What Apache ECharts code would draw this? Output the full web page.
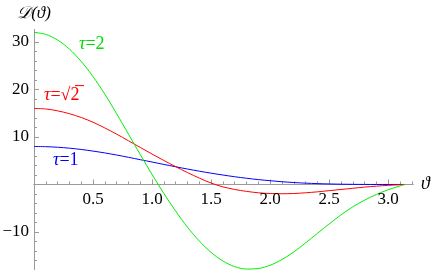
<!DOCTYPE html>
<html>
<head>
<meta charset="utf-8">
<script src="https://cdn.jsdelivr.net/npm/echarts@6/dist/echarts.min.js"></script>
<style>html,body{margin:0;padding:0;background:#fff}#c{width:436px;height:270px}</style>
</head>
<body>
<div id="c"></div>
<script>
// angle values (x)
const thetas = [0, 0.1, 0.2, 0.3, 0.4, 0.5, 0.6, 0.7, 0.8, 0.9, 1.0, 1.1, 1.2, 1.3, 1.4, 1.5, 1.6, 1.7, 1.8, 1.9, 2.0, 2.1, 2.2, 2.3, 2.4, 2.5, 2.6, 2.7, 2.8, 2.9, 3.0, 3.1, 3.1416];
// tau = 1 (blue)
const dTau1 = [8.0, 7.96, 7.84, 7.64, 7.37, 7.03, 6.64, 6.2, 5.72, 5.22, 4.72, 4.22, 3.73, 3.25, 2.8, 2.38, 1.99, 1.63, 1.31, 1.03, 0.79, 0.58, 0.41, 0.28, 0.18, 0.11, 0.06, 0.03, 0.01, 0.0, 0.0, 0.0, 0.0];
// tau = sqrt(2) (red)
const dTauSqrt2 = [16.0, 15.9, 15.5, 14.9, 14.1, 13.1, 11.9, 10.6, 9.2, 7.8, 6.4, 5.05, 3.75, 2.5, 1.35, 0.3, -0.5, -1.05, -1.45, -1.75, -1.9, -1.95, -1.9, -1.75, -1.55, -1.3, -1.05, -0.8, -0.55, -0.35, -0.18, -0.05, 0.0];
// tau = 2 (green)
const dTau2 = [32.0, 31.6, 30.4, 28.5, 25.9, 22.7, 19.0, 14.9, 10.6, 6.3, 2.1, -1.9, -5.6, -9.0, -11.9, -14.3, -16.1, -17.3, -17.8, -17.7, -17.0, -15.8, -14.2, -12.3, -10.3, -8.3, -6.4, -4.7, -3.3, -2.1, -1.1, -0.3, 0.0];
// ticks
const xMajorTicks = [0.5, 1.0, 1.5, 2.0, 2.5, 3.0];
const xTickLabels = ['0.5', '1.0', '1.5', '2.0', '2.5', '3.0'];
const xMinorTicks = [0.1, 0.2, 0.3, 0.4, 0.6, 0.7, 0.8, 0.9, 1.1, 1.2, 1.3, 1.4, 1.6, 1.7, 1.8, 1.9, 2.1, 2.2, 2.3, 2.4, 2.6, 2.7, 2.8, 2.9, 3.1, 3.2];
const yMajorTicks = [-10, 0, 10, 20, 30];
const yTickLabels = [30, 20, 10, -10];
const yMinorTicks = [-18, -16, -14, -12, -8, -6, -4, -2, 2, 4, 6, 8, 12, 14, 16, 18, 22, 24, 26, 28, 32];

const serif = "'Liberation Serif', 'Times New Roman', 'DejaVu Serif', serif";
const axisGray = '#9a9a9a';

const chart = echarts.init(document.getElementById('c'), null, {renderer: 'canvas'});
const mk = arr => thetas.map((t, i) => [t, arr[i]]);

const xBase = {
  type: 'value', min: 0, max: 3.21, position: 'bottom',
  axisLine: {onZero: true, lineStyle: {color: axisGray, width: 1}},
  splitLine: {show: false}
};
const yBase = {
  type: 'value', min: -18, max: 32.6, position: 'left',
  axisLine: {onZero: true, lineStyle: {color: axisGray, width: 1}},
  splitLine: {show: false}
};

const labelStyle = (color) => ({
  i: {fontStyle: 'italic', fontFamily: serif, fontSize: 18, fill: color},
  n: {fontFamily: serif, fontSize: 18, fill: color}
});

chart.setOption({
  animation: false,
  textStyle: {fontFamily: serif},
  grid: {left: 34, right: 23, top: 29.6, bottom: 0, containLabel: false,
    outerBounds: {left: -200, top: -200, right: -200, bottom: -200}},
  xAxis: [
    Object.assign({}, xBase, {
      name: 'ϑ', nameLocation: 'end', nameGap: 8,
      nameTextStyle: {fontFamily: serif, fontStyle: 'italic', fontSize: 18, color: '#000', verticalAlign: 'middle'},
      axisTick: {show: true, inside: true, length: 5, customValues: xMajorTicks, lineStyle: {color: axisGray}},
      axisLabel: {show: false}
    }),
    Object.assign({}, xBase, {
      axisTick: {show: true, inside: true, length: 3, customValues: xMinorTicks, lineStyle: {color: axisGray}},
      axisLabel: {show: false}
    })
  ],
  yAxis: [
    Object.assign({}, yBase, {
      name: '𝒟(ϑ)', nameLocation: 'end', nameGap: 8,
      nameTextStyle: {fontFamily: serif, fontStyle: 'italic', fontSize: 17, color: '#000'},
      axisTick: {show: true, inside: true, length: 5, customValues: yMajorTicks, lineStyle: {color: axisGray}},
      axisLabel: {show: true, customValues: yTickLabels, margin: 5, fontFamily: serif, fontSize: 17, color: '#000',
        formatter: v => (v < 0 ? '\u2212' + Math.abs(v) : String(v))}
    }),
    Object.assign({}, yBase, {
      axisTick: {show: true, inside: true, length: 3, customValues: yMinorTicks, lineStyle: {color: axisGray}},
      axisLabel: {show: false}
    })
  ],
  series: [
    {type: 'line', name: 'τ=1', data: mk(dTau1), smooth: 0.3, showSymbol: false, xAxisIndex: 0, yAxisIndex: 0,
      lineStyle: {color: '#0000ff', width: 1}, z: 3},
    {type: 'line', name: 'τ=√2', data: mk(dTauSqrt2), smooth: 0.3, showSymbol: false, xAxisIndex: 0, yAxisIndex: 0,
      lineStyle: {color: '#ff0000', width: 1}, z: 4},
    {type: 'line', name: 'τ=2', data: mk(dTau2), smooth: 0.3, showSymbol: false, xAxisIndex: 0, yAxisIndex: 0,
      lineStyle: {color: '#00ee00', width: 1}, z: 5}
  ]
});

// x tick labels placed through the axis scale
const graphics = xMajorTicks.map((v, i) => {
  const p = chart.convertToPixel({xAxisIndex: 0, yAxisIndex: 0}, [v, 0]);
  return {type: 'text', x: p[0], y: p[1] + 15, z: 10,
    style: {text: xTickLabels[i], align: 'center', verticalAlign: 'middle', fill: '#000',
      fontFamily: serif, fontSize: 17}};
});
graphics.push(
  {type: 'text', left: 79, top: 35, style: {text: '{i|τ}{n|=2}', fill: '#00dd00', fontFamily: serif, fontSize: 18, rich: labelStyle('#00dd00')}},
  {type: 'text', left: 44, top: 86, style: {text: '{i|τ}{n|=√2\u0305}', fill: '#ff0000', fontFamily: serif, fontSize: 18, rich: labelStyle('#ff0000')}},
  {type: 'text', left: 53, top: 151, style: {text: '{i|τ}{n|=1}', fill: '#0000ff', fontFamily: serif, fontSize: 18, rich: labelStyle('#0000ff')}}
);
chart.setOption({graphic: graphics});
</script>
</body>
</html>
